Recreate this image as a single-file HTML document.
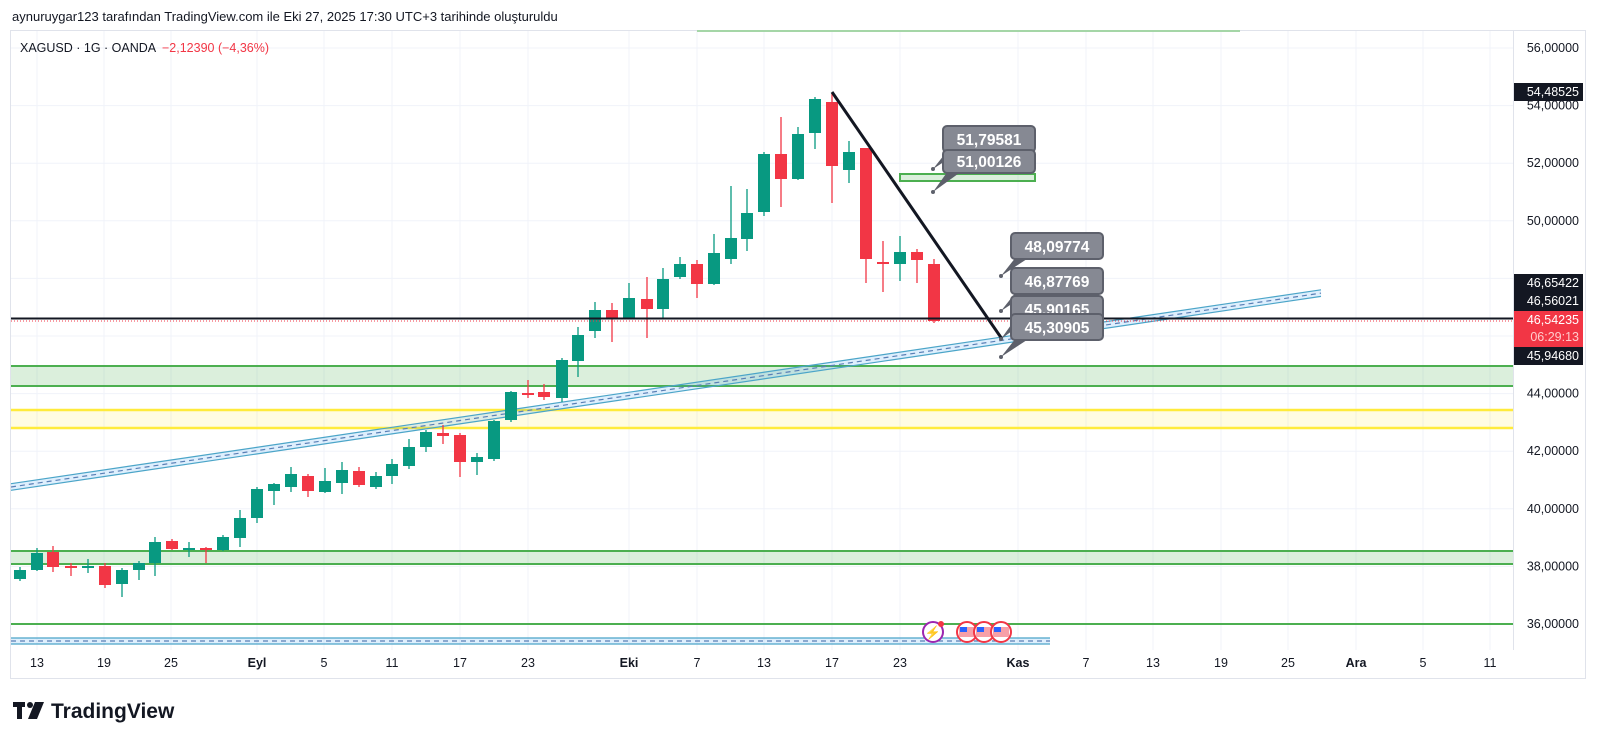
<!DOCTYPE html>
<html><head><meta charset="utf-8"><style>
html,body{margin:0;padding:0;background:#fff;width:1600px;height:745px;overflow:hidden}
svg{display:block}
text{font-family:"Liberation Sans",sans-serif}
</style></head><body>
<svg width="1600" height="745" viewBox="0 0 1600 745" xmlns="http://www.w3.org/2000/svg">
<text x="12" y="21" font-size="13" fill="#131722">aynuruygar123 tarafından TradingView.com ile Eki 27, 2025 17:30 UTC+3 tarihinde oluşturuldu</text>
<rect x="10.5" y="30.5" width="1575" height="648" fill="none" stroke="#e0e3eb"/>
<line x1="1513.5" y1="31" x2="1513.5" y2="650" stroke="#e0e3eb"/>
<g stroke="#f0f3fa" stroke-width="1">
<line x1="11" y1="48" x2="1513" y2="48"/><line x1="11" y1="105.6" x2="1513" y2="105.6"/><line x1="11" y1="163.2" x2="1513" y2="163.2"/><line x1="11" y1="220.8" x2="1513" y2="220.8"/><line x1="11" y1="278.4" x2="1513" y2="278.4"/><line x1="11" y1="336" x2="1513" y2="336"/><line x1="11" y1="393.6" x2="1513" y2="393.6"/><line x1="11" y1="451.2" x2="1513" y2="451.2"/><line x1="11" y1="508.8" x2="1513" y2="508.8"/><line x1="11" y1="566.4" x2="1513" y2="566.4"/><line x1="11" y1="624" x2="1513" y2="624"/>
<line x1="37" y1="31" x2="37" y2="650"/><line x1="104" y1="31" x2="104" y2="650"/><line x1="171" y1="31" x2="171" y2="650"/><line x1="257" y1="31" x2="257" y2="650"/><line x1="324" y1="31" x2="324" y2="650"/><line x1="392" y1="31" x2="392" y2="650"/><line x1="460" y1="31" x2="460" y2="650"/><line x1="528" y1="31" x2="528" y2="650"/><line x1="629" y1="31" x2="629" y2="650"/><line x1="697" y1="31" x2="697" y2="650"/><line x1="764" y1="31" x2="764" y2="650"/><line x1="832" y1="31" x2="832" y2="650"/><line x1="900" y1="31" x2="900" y2="650"/><line x1="1018" y1="31" x2="1018" y2="650"/><line x1="1086" y1="31" x2="1086" y2="650"/><line x1="1153" y1="31" x2="1153" y2="650"/><line x1="1221" y1="31" x2="1221" y2="650"/><line x1="1288" y1="31" x2="1288" y2="650"/><line x1="1356" y1="31" x2="1356" y2="650"/><line x1="1423" y1="31" x2="1423" y2="650"/><line x1="1490" y1="31" x2="1490" y2="650"/>
</g>
<text x="20" y="52" font-size="12.5" fill="#131722">XAGUSD · 1G · OANDA</text>
<text x="162" y="52" font-size="12.5" fill="#f23645">−2,12390 (−4,36%)</text>
<line x1="697" y1="31" x2="1240" y2="31" stroke="#a5d6a7" stroke-width="2"/>
<rect x="11" y="366" width="1502" height="20" fill="rgba(76,175,80,0.2)"/>
<line x1="11" y1="366" x2="1513" y2="366" stroke="#4caf50" stroke-width="2"/><line x1="11" y1="386" x2="1513" y2="386" stroke="#4caf50" stroke-width="2"/>
<rect x="11" y="410" width="1502" height="18" fill="rgba(255,235,59,0.15)"/>
<line x1="11" y1="410" x2="1513" y2="410" stroke="#ffeb3b" stroke-width="2.5"/><line x1="11" y1="428" x2="1513" y2="428" stroke="#ffeb3b" stroke-width="2.5"/>
<rect x="11" y="551" width="1502" height="13" fill="rgba(76,175,80,0.2)"/>
<line x1="11" y1="551" x2="1513" y2="551" stroke="#4caf50" stroke-width="2"/><line x1="11" y1="564" x2="1513" y2="564" stroke="#4caf50" stroke-width="2"/>
<line x1="11" y1="624" x2="1513" y2="624" stroke="#4caf50" stroke-width="2"/>
<rect x="11" y="638" width="1039" height="6" fill="rgba(33,150,243,0.15)"/>
<line x1="11" y1="638" x2="1050" y2="638" stroke="#4ba5c8" stroke-width="1.2"/><line x1="11" y1="644" x2="1050" y2="644" stroke="#4ba5c8" stroke-width="1.2"/>
<line x1="11" y1="641" x2="1050" y2="641" stroke="#5a7fb5" stroke-width="1.2" stroke-dasharray="5,4"/>
<polygon points="11,483.7 1321,289.8 1321,296.4 11,490.3" fill="rgba(33,150,243,0.15)"/>
<line x1="11" y1="483.7" x2="1321" y2="289.8" stroke="#4ba5c8" stroke-width="1.2"/>
<line x1="11" y1="490.3" x2="1321" y2="296.4" stroke="#4ba5c8" stroke-width="1.2"/>
<line x1="11" y1="487" x2="1321" y2="293.1" stroke="#5a7fb5" stroke-width="1.2" stroke-dasharray="5,4"/>
<g stroke-width="1.3">
<g stroke="#089981" fill="#089981">
<line x1="20" y1="567" x2="20" y2="581"/><rect x="14" y="570" width="12" height="9" stroke="none"/>
<line x1="37" y1="548" x2="37" y2="571"/><rect x="31" y="553" width="12" height="17" stroke="none"/>
<line x1="88" y1="559" x2="88" y2="573"/><rect x="82" y="566" width="12" height="2" stroke="none"/>
<line x1="122" y1="568" x2="122" y2="597"/><rect x="116" y="570" width="12" height="14" stroke="none"/>
<line x1="139" y1="561" x2="139" y2="580"/><rect x="133" y="563" width="12" height="7" stroke="none"/>
<line x1="155" y1="537" x2="155" y2="576"/><rect x="149" y="542" width="12" height="21" stroke="none"/>
<line x1="189" y1="542" x2="189" y2="557"/><rect x="183" y="548" width="12" height="2" stroke="none"/>
<line x1="223" y1="535" x2="223" y2="551"/><rect x="217" y="537" width="12" height="13" stroke="none"/>
<line x1="240" y1="510" x2="240" y2="547"/><rect x="234" y="518" width="12" height="20" stroke="none"/>
<line x1="257" y1="487" x2="257" y2="523"/><rect x="251" y="489" width="12" height="29" stroke="none"/>
<line x1="274" y1="483" x2="274" y2="505"/><rect x="268" y="484" width="12" height="7" stroke="none"/>
<line x1="291" y1="467" x2="291" y2="492"/><rect x="285" y="474" width="12" height="13" stroke="none"/>
<line x1="325" y1="468" x2="325" y2="493"/><rect x="319" y="481" width="12" height="11" stroke="none"/>
<line x1="342" y1="462" x2="342" y2="494"/><rect x="336" y="470" width="12" height="13" stroke="none"/>
<line x1="376" y1="472" x2="376" y2="489"/><rect x="370" y="476" width="12" height="11" stroke="none"/>
<line x1="392" y1="459" x2="392" y2="484"/><rect x="386" y="464" width="12" height="12" stroke="none"/>
<line x1="409" y1="439" x2="409" y2="469"/><rect x="403" y="447" width="12" height="19" stroke="none"/>
<line x1="426" y1="430" x2="426" y2="452"/><rect x="420" y="432" width="12" height="15" stroke="none"/>
<line x1="477" y1="453" x2="477" y2="475"/><rect x="471" y="457" width="12" height="5" stroke="none"/>
<line x1="494" y1="420" x2="494" y2="461"/><rect x="488" y="421" width="12" height="38" stroke="none"/>
<line x1="511" y1="391" x2="511" y2="422"/><rect x="505" y="392" width="12" height="28" stroke="none"/>
<line x1="562" y1="358" x2="562" y2="402"/><rect x="556" y="360" width="12" height="38" stroke="none"/>
<line x1="578" y1="327" x2="578" y2="377"/><rect x="572" y="335" width="12" height="26" stroke="none"/>
<line x1="595" y1="302" x2="595" y2="338"/><rect x="589" y="310" width="12" height="21" stroke="none"/>
<line x1="629" y1="283" x2="629" y2="319"/><rect x="623" y="298" width="12" height="20" stroke="none"/>
<line x1="663" y1="268" x2="663" y2="319"/><rect x="657" y="279" width="12" height="30" stroke="none"/>
<line x1="680" y1="257" x2="680" y2="279"/><rect x="674" y="264" width="12" height="13" stroke="none"/>
<line x1="714" y1="234" x2="714" y2="285"/><rect x="708" y="253" width="12" height="31" stroke="none"/>
<line x1="731" y1="186" x2="731" y2="264"/><rect x="725" y="238" width="12" height="21" stroke="none"/>
<line x1="747" y1="189" x2="747" y2="251"/><rect x="741" y="213" width="12" height="26" stroke="none"/>
<line x1="764" y1="152" x2="764" y2="216"/><rect x="758" y="154" width="12" height="58" stroke="none"/>
<line x1="798" y1="127" x2="798" y2="180"/><rect x="792" y="134" width="12" height="45" stroke="none"/>
<line x1="815" y1="97" x2="815" y2="149"/><rect x="809" y="99" width="12" height="34" stroke="none"/>
<line x1="849" y1="141" x2="849" y2="183"/><rect x="843" y="152" width="12" height="18" stroke="none"/>
<line x1="900" y1="236" x2="900" y2="281"/><rect x="894" y="252" width="12" height="12" stroke="none"/>
</g>
<g stroke="#f23645" fill="#f23645">
<line x1="53" y1="546" x2="53" y2="572"/><rect x="47" y="552" width="12" height="15" stroke="none"/>
<line x1="71" y1="563" x2="71" y2="576"/><rect x="65" y="566" width="12" height="2" stroke="none"/>
<line x1="105" y1="563" x2="105" y2="588"/><rect x="99" y="566" width="12" height="19" stroke="none"/>
<line x1="172" y1="539" x2="172" y2="550"/><rect x="166" y="541" width="12" height="8" stroke="none"/>
<line x1="206" y1="547" x2="206" y2="563"/><rect x="200" y="548" width="12" height="2" stroke="none"/>
<line x1="308" y1="474" x2="308" y2="497"/><rect x="302" y="476" width="12" height="15" stroke="none"/>
<line x1="359" y1="467" x2="359" y2="487"/><rect x="353" y="471" width="12" height="14" stroke="none"/>
<line x1="443" y1="425" x2="443" y2="444"/><rect x="437" y="433" width="12" height="3" stroke="none"/>
<line x1="460" y1="433" x2="460" y2="477"/><rect x="454" y="435" width="12" height="27" stroke="none"/>
<line x1="528" y1="380" x2="528" y2="398"/><rect x="522" y="393" width="12" height="2" stroke="none"/>
<line x1="544" y1="384" x2="544" y2="400"/><rect x="538" y="392" width="12" height="5" stroke="none"/>
<line x1="612" y1="303" x2="612" y2="342"/><rect x="606" y="310" width="12" height="8" stroke="none"/>
<line x1="647" y1="277" x2="647" y2="338"/><rect x="641" y="299" width="12" height="10" stroke="none"/>
<line x1="697" y1="260" x2="697" y2="298"/><rect x="691" y="264" width="12" height="20" stroke="none"/>
<line x1="781" y1="117" x2="781" y2="207"/><rect x="775" y="154" width="12" height="25" stroke="none"/>
<line x1="832" y1="93" x2="832" y2="203"/><rect x="826" y="102" width="12" height="64" stroke="none"/>
<line x1="866" y1="148" x2="866" y2="283"/><rect x="860" y="148" width="12" height="111" stroke="none"/>
<line x1="883" y1="241" x2="883" y2="292"/><rect x="877" y="262" width="12" height="2" stroke="none"/>
<line x1="917" y1="249" x2="917" y2="283"/><rect x="911" y="252" width="12" height="8" stroke="none"/>
<line x1="934" y1="259" x2="934" y2="323"/><rect x="928" y="264" width="12" height="57" stroke="none"/>
</g>
</g>
<line x1="11" y1="321" x2="1513" y2="321" stroke="#f23645" stroke-width="1" stroke-dasharray="1,2"/>
<line x1="11" y1="318.5" x2="1513" y2="318.5" stroke="#131722" stroke-width="2"/>
<line x1="832" y1="92" x2="1002" y2="339" stroke="#131722" stroke-width="3"/>
<rect x="900" y="174" width="135" height="7" fill="rgba(76,175,80,0.2)" stroke="#4caf50" stroke-width="2"/>
<g font-size="15.5" font-weight="bold" fill="#fff">
<polygon points="948,150 962,150 933,169" fill="#5d606b"/><circle cx="933" cy="169" r="2" fill="#5d606b"/>
<rect x="943" y="126" width="92" height="26" rx="4" fill="#868993" stroke="#5d606b" stroke-width="2"/><text x="989" y="145" text-anchor="middle">51,79581</text>
<polygon points="948,171 962,171 933,192" fill="#5d606b"/><circle cx="933" cy="192" r="2" fill="#5d606b"/>
<rect x="943" y="150" width="92" height="23" rx="4" fill="#868993" stroke="#5d606b" stroke-width="2"/><text x="989" y="167" text-anchor="middle">51,00126</text>
<polygon points="1016,257 1030,257 1001,276" fill="#5d606b"/><circle cx="1001" cy="276" r="2" fill="#5d606b"/>
<rect x="1011" y="233" width="92" height="26" rx="4" fill="#868993" stroke="#5d606b" stroke-width="2"/><text x="1057" y="252" text-anchor="middle">48,09774</text>
<polygon points="1016,292 1030,292 1001,311" fill="#5d606b"/><circle cx="1001" cy="311" r="2" fill="#5d606b"/>
<rect x="1011" y="268" width="92" height="26" rx="4" fill="#868993" stroke="#5d606b" stroke-width="2"/><text x="1057" y="287" text-anchor="middle">46,87769</text>
<polygon points="1016,318 1030,318 1001,339" fill="#5d606b"/><circle cx="1001" cy="339" r="2" fill="#5d606b"/>
<rect x="1011" y="296" width="92" height="26" rx="4" fill="#868993" stroke="#5d606b" stroke-width="2"/><text x="1057" y="315" text-anchor="middle">45,90165</text>
<polygon points="1016,338 1030,338 1001,357" fill="#5d606b"/><circle cx="1001" cy="357" r="2" fill="#5d606b"/>
<rect x="1011" y="314" width="92" height="26" rx="4" fill="#868993" stroke="#5d606b" stroke-width="2"/><text x="1057" y="333" text-anchor="middle">45,30905</text>
</g>
<circle cx="933" cy="632" r="10" fill="#fff" stroke="#9c27b0" stroke-width="2"/><text x="933" y="637" font-size="13" fill="#9c27b0" text-anchor="middle">⚡</text><circle cx="941" cy="624" r="3" fill="#f23645"/>
<g><circle cx="967" cy="632" r="10" fill="#fff" stroke="#f23645" stroke-width="2"/><rect x="959" y="627" width="16" height="10" fill="#f7a0a8"/><rect x="960" y="627" width="7" height="5" fill="#2962ff"/></g>
<g><circle cx="984" cy="632" r="10" fill="#fff" stroke="#f23645" stroke-width="2"/><rect x="976" y="627" width="16" height="10" fill="#f7a0a8"/><rect x="977" y="627" width="7" height="5" fill="#2962ff"/></g>
<g><circle cx="1001" cy="632" r="10" fill="#fff" stroke="#f23645" stroke-width="2"/><rect x="993" y="627" width="16" height="10" fill="#f7a0a8"/><rect x="994" y="627" width="7" height="5" fill="#2962ff"/></g>
<g font-size="12.5" fill="#131722" text-anchor="end">
<text x="1579" y="52">56,00000</text><text x="1579" y="109.6">54,00000</text><text x="1579" y="167.2">52,00000</text><text x="1579" y="224.8">50,00000</text><text x="1579" y="397.6">44,00000</text><text x="1579" y="455.2">42,00000</text><text x="1579" y="512.8">40,00000</text><text x="1579" y="570.4">38,00000</text><text x="1579" y="628">36,00000</text>
</g>
<g font-size="12.5" text-anchor="end">
<rect x="1514" y="83" width="69" height="18" fill="#131722"/><text x="1579" y="96" fill="#fff">54,48525</text>
<rect x="1514" y="274" width="69" height="18" fill="#131722"/><text x="1579" y="287" fill="#fff">46,65422</text>
<rect x="1514" y="292" width="69" height="19" fill="#131722"/><text x="1579" y="305" fill="#fff">46,56021</text>
<rect x="1514" y="311" width="69" height="36" fill="#f23645"/><text x="1579" y="324" fill="#fff">46,54235</text><text x="1579" y="341" fill="#fcc">06:29:13</text>
<rect x="1514" y="347" width="69" height="18" fill="#131722"/><text x="1579" y="360" fill="#fff">45,94680</text>
</g>
<g font-size="12.5" fill="#131722" text-anchor="middle">
<text x="37" y="667">13</text><text x="104" y="667">19</text><text x="171" y="667">25</text><text x="257" y="667" font-weight="bold">Eyl</text><text x="324" y="667">5</text><text x="392" y="667">11</text><text x="460" y="667">17</text><text x="528" y="667">23</text><text x="629" y="667" font-weight="bold">Eki</text><text x="697" y="667">7</text><text x="764" y="667">13</text><text x="832" y="667">17</text><text x="900" y="667">23</text><text x="1018" y="667" font-weight="bold">Kas</text><text x="1086" y="667">7</text><text x="1153" y="667">13</text><text x="1221" y="667">19</text><text x="1288" y="667">25</text><text x="1356" y="667" font-weight="bold">Ara</text><text x="1423" y="667">5</text><text x="1490" y="667">11</text>
</g>
<g fill="#131722"><rect x="13" y="702" width="12" height="5"/><rect x="17" y="702" width="5" height="17"/><circle cx="30" cy="705" r="3"/><polygon points="35,702 44,702 37,719 28,719"/></g>
<text x="51" y="718" font-size="21" font-weight="bold" fill="#131722">TradingView</text>
</svg>
</body></html>
